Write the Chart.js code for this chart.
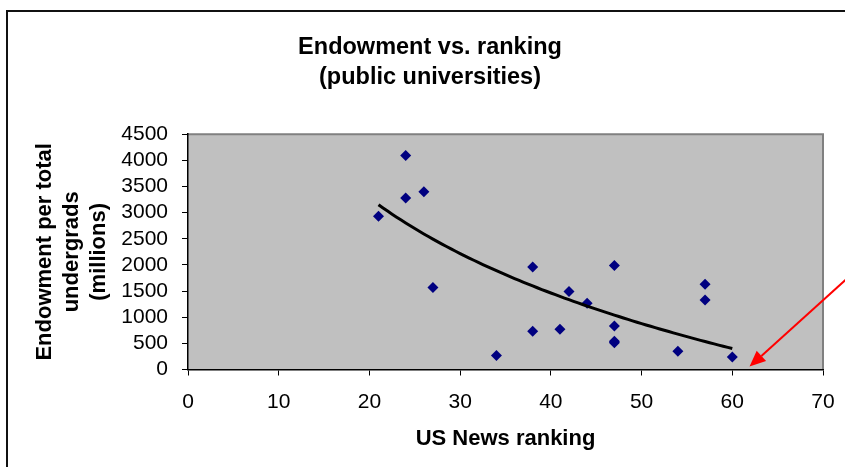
<!DOCTYPE html>
<html>
<head>
<meta charset="utf-8">
<script src="https://cdn.jsdelivr.net/npm/chart.js@4/dist/chart.umd.min.js"></script>
<style>
  html, body { margin: 0; padding: 0; background: #fff; overflow: hidden; }
  #frame {
    position: absolute; left: 6px; top: 10px; width: 900px; height: 500px;
    border-left: 2px solid #111; border-top: 2px solid #111;
  }
  #chart { position: absolute; left: 0; top: 0; }
</style>
</head>
<body>
<div id="frame"></div>
<canvas id="chart" width="845" height="467"></canvas>
<script>
// US News ranking vs endowment per undergrad (public universities)
const rankings = [21, 24, 24, 26, 27, 34, 38, 38, 41, 42, 44, 47, 47, 47, 47, 54, 57, 57, 60];
const endowment = [2930, 4090, 3280, 3400, 1570, 270, 1960, 730, 770, 1490, 1265, 1990, 830, 540, 510, 350, 1630, 1330, 240];
const xTicks = [0, 10, 20, 30, 40, 50, 60, 70];
const yTicks = [0, 500, 1000, 1500, 2000, 2500, 3000, 3500, 4000, 4500];

// arrow annotation, in data units (tail, tip)
const arrowFrom = { x: 74.3, y: 2000 };
const arrowTo = { x: 61.9, y: 55 };

const points = rankings.map((r, i) => ({ x: r, y: endowment[i] }));

// logarithmic trendline (least squares on ln x), like Excel's
const lnx = rankings.map(r => Math.log(r));
const mL = lnx.reduce((s, v) => s + v, 0) / lnx.length;
const mY = endowment.reduce((s, v) => s + v, 0) / endowment.length;
let sxy = 0, sxx = 0;
lnx.forEach((l, i) => { sxy += (l - mL) * (endowment[i] - mY); sxx += (l - mL) * (l - mL); });
const slope = sxy / sxx;
const icpt = mY - slope * mL;
const trend = [];
for (let x = Math.min(...rankings); x <= Math.max(...rankings); x += 0.5) {
  trend.push({ x: x, y: icpt + slope * Math.log(x) });
}

const plotBack = {
  id: 'plotBack',
  beforeDraw(chart) {
    const { ctx, chartArea: a } = chart;
    ctx.save();
    ctx.fillStyle = '#c0c0c0';
    ctx.fillRect(a.left, a.top, a.right - a.left, a.bottom - a.top);
    ctx.strokeStyle = '#808080';
    ctx.lineWidth = 2;
    ctx.beginPath();
    ctx.moveTo(a.left, a.top);
    ctx.lineTo(a.right, a.top);
    ctx.lineTo(a.right, a.bottom);
    ctx.stroke();
    ctx.restore();
  }
};

const arrow = {
  id: 'arrow',
  afterDraw(chart) {
    const { ctx, scales } = chart;
    const x1 = scales.x.getPixelForValue(arrowFrom.x), y1 = scales.y.getPixelForValue(arrowFrom.y);
    const x2 = scales.x.getPixelForValue(arrowTo.x), y2 = scales.y.getPixelForValue(arrowTo.y);
    const ang = Math.atan2(y2 - y1, x2 - x1);
    const len = 16, half = 7;
    const bx = x2 - len * Math.cos(ang), by = y2 - len * Math.sin(ang);
    ctx.save();
    ctx.strokeStyle = '#ff0000';
    ctx.fillStyle = '#ff0000';
    ctx.lineWidth = 2;
    ctx.beginPath();
    ctx.moveTo(x1, y1);
    ctx.lineTo(bx, by);
    ctx.stroke();
    ctx.beginPath();
    ctx.moveTo(x2, y2);
    ctx.lineTo(bx + half * Math.sin(ang), by - half * Math.cos(ang));
    ctx.lineTo(bx - half * Math.sin(ang), by + half * Math.cos(ang));
    ctx.closePath();
    ctx.fill();
    ctx.restore();
  }
};

Chart.defaults.font.family = "'Liberation Sans', Arial, sans-serif";
Chart.defaults.color = '#000';

new Chart(document.getElementById('chart'), {
  type: 'scatter',
  data: {
    datasets: [
      {
        label: 'Trend',
        data: trend,
        showLine: true,
        borderColor: '#000',
        borderWidth: 3,
        pointRadius: 0,
        order: 0
      },
      {
        label: 'Universities',
        data: points,
        pointStyle: 'rectRot',
        pointRadius: 5.5,
        backgroundColor: '#000080',
        borderColor: '#000080',
        borderWidth: 0,
        order: 1
      }
    ]
  },
  options: {
    responsive: false,
    animation: false,
    layout: { padding: { left: 37, right: 22, top: 0, bottom: 0 } },
    plugins: {
      legend: { display: false },
      tooltip: { enabled: false },
      title: {
        display: true,
        text: ['Endowment vs. ranking', '(public universities)'],
        font: { size: 23.5, weight: 'bold', lineHeight: 1.28 },
        color: '#000',
        padding: { top: 32, bottom: 42 }
      }
    },
    scales: {
      x: {
        type: 'linear',
        min: 0,
        max: 70,
        afterBuildTicks: s => { s.ticks = xTicks.map(v => ({ value: v })); },
        afterFit: s => { s.height = 97.5; s.paddingLeft = 0; s.paddingRight = 11; },
        ticks: { font: { size: 21 }, padding: 14, color: '#000', autoSkip: false, callback: v => String(v) },
        grid: { drawOnChartArea: false, tickLength: 6, color: '#000' },
        border: { color: '#000', width: 1.5 },
        title: {
          display: true,
          text: 'US News ranking',
          font: { size: 22, weight: 'bold', lineHeight: 1.2 },
          padding: { top: 0, bottom: 15 }
        }
      },
      y: {
        type: 'linear',
        min: 0,
        max: 4500,
        afterBuildTicks: s => { s.ticks = yTicks.map(v => ({ value: v })); },
        afterFit: s => { s.width = 151; },
        ticks: { font: { size: 21 }, padding: 14, color: '#000', autoSkip: false, callback: v => String(v) },
        grid: { drawOnChartArea: false, tickLength: 6, color: '#000' },
        border: { color: '#000', width: 1.5 },
        title: {
          display: true,
          text: ['Endowment per total', 'undergrads', '(millions)'],
          font: { size: 22, weight: 'bold', lineHeight: 1.22 },
          padding: { top: -5, bottom: 0 }
        }
      }
    }
  },
  plugins: [plotBack, arrow]
});
</script>
</body>
</html>
